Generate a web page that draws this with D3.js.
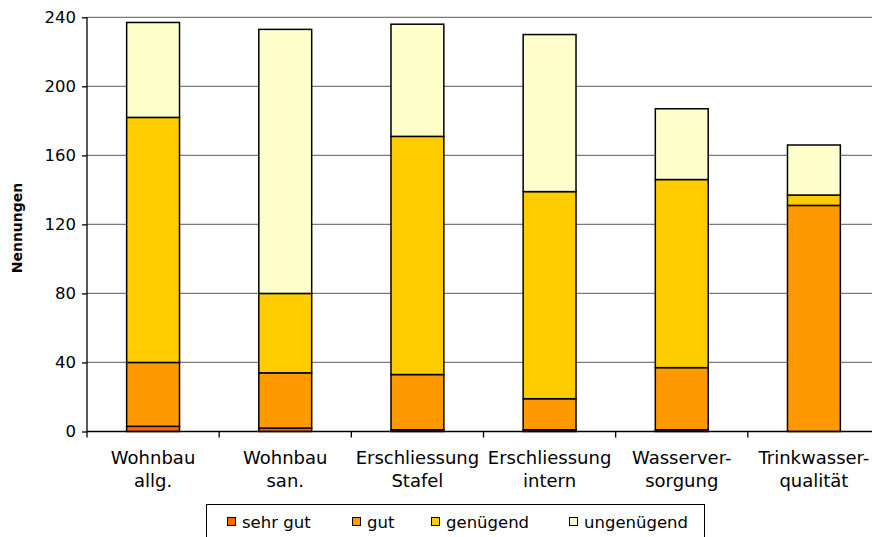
<!DOCTYPE html>
<html><head><meta charset="utf-8">
<script src="https://cdn.jsdelivr.net/npm/d3@7"></script>
<style>body{margin:0;background:#fff}svg{display:block}text{font-family:"DejaVu Sans",Verdana,sans-serif;fill:#000}</style>
</head><body>
<svg id="c" width="872" height="537"></svg>
<script>
const categories = [["Wohnbau","allg."],["Wohnbau","san."],["Erschliessung","Stafel"],["Erschliessung","intern"],["Wasserver-","sorgung"],["Trinkwasser-","qualität"]];
const seriesNames = ["sehr gut","gut","genügend","ungenügend"];
const sehrGut = [3, 2, 1, 1, 1, 0];
const gut = [37, 32, 32, 18, 36, 131];
const genuegend = [142, 46, 138, 120, 109, 6];
const ungenuegend = [55, 153, 65, 91, 41, 29];
const colors = ["#FF6600","#FF9900","#FFCC00","#FFFFCC"];
const yTicks = [0,40,80,120,160,200,240];

const svg = d3.select("#c");
const keys = categories.map((c,i)=>"c"+i);
const rows = keys.map((k,i)=>({key:k, "sehr gut":sehrGut[i], "gut":gut[i], "genügend":genuegend[i], "ungenügend":ungenuegend[i]}));
const stack = d3.stack().keys(seriesNames)(rows);

const x = d3.scaleBand().domain(keys).range([87, 880]).paddingInner(0.6).paddingOuter(0.3);
const y = d3.scaleLinear().domain([0,240]).range([431.5, 17.3]);

// gridlines
svg.append("g").selectAll("line").data(yTicks.filter(t=>t>0)).join("line")
  .attr("x1",87).attr("x2",872).attr("y1",d=>y(d)).attr("y2",d=>y(d))
  .attr("stroke","#7a7a7a").attr("stroke-width",1.3);

// bars
svg.append("g").selectAll("g").data(stack).join("g")
  .attr("fill",(d,i)=>colors[i])
  .selectAll("rect").data(d=>d.filter(s=>s[1]-s[0]>0)).join("rect")
  .attr("x",d=>x(d.data.key)).attr("width",x.bandwidth())
  .attr("y",d=>y(d[1])).attr("height",d=>y(d[0])-y(d[1]))
  .attr("stroke","#000").attr("stroke-width",1.5);

// y axis
const ya = svg.append("g").attr("transform","translate(87,0)")
  .call(d3.axisLeft(y).tickValues(yTicks).tickSize(5).tickPadding(6));
ya.select(".domain").attr("stroke","#000").attr("stroke-width",1.3).attr("d","M0,"+y(0)+"V"+y(240));
ya.selectAll(".tick line").attr("stroke","#000").attr("stroke-width",1.3);
ya.selectAll(".tick text").attr("font-size","16.5px").attr("font-family","DejaVu Sans").attr("fill","#000");

// x axis
svg.append("line").attr("x1",87).attr("x2",872).attr("y1",y(0)).attr("y2",y(0)).attr("stroke","#000").attr("stroke-width",1.3);
const step = x.step();
const bounds = d3.range(0, categories.length+1).map(i=>87 + i*step);
svg.append("g").selectAll("line").data(bounds).join("line")
  .attr("x1",d=>d).attr("x2",d=>d).attr("y1",y(0)).attr("y2",y(0)+6)
  .attr("stroke","#000").attr("stroke-width",1.3);

const xl = svg.append("g").selectAll("text").data(categories).join("text")
  .attr("x",(d,i)=>x(keys[i])+x.bandwidth()/2).attr("y",464)
  .attr("text-anchor","middle").attr("font-size","18px");
xl.append("tspan").text(d=>d[0]);
xl.append("tspan").attr("x",(d,i)=>x(keys[i])+x.bandwidth()/2).attr("dy",23).text(d=>d[1]);

// y title
svg.append("text").attr("transform","translate(22,228) rotate(-90)")
  .attr("text-anchor","middle").attr("font-size","14px").attr("font-weight","bold").text("Nennungen");

// legend
svg.append("rect").attr("x",206.5).attr("y",504.5).attr("width",498).attr("height",40)
  .attr("fill","#fff").attr("stroke","#000").attr("stroke-width",1);
const legX = [227, 352, 431, 569];
const lg = svg.append("g").selectAll("g").data(seriesNames).join("g")
  .attr("transform",(d,i)=>`translate(${legX[i]},0)`);
lg.append("rect").attr("x",0.5).attr("y",517.5).attr("width",8).attr("height",8)
  .attr("fill",(d,i)=>colors[i]).attr("stroke","#000").attr("stroke-width",1);
lg.append("text").attr("x",15).attr("y",528).attr("font-size","16.5px").text(d=>d);
</script>
</body></html>
